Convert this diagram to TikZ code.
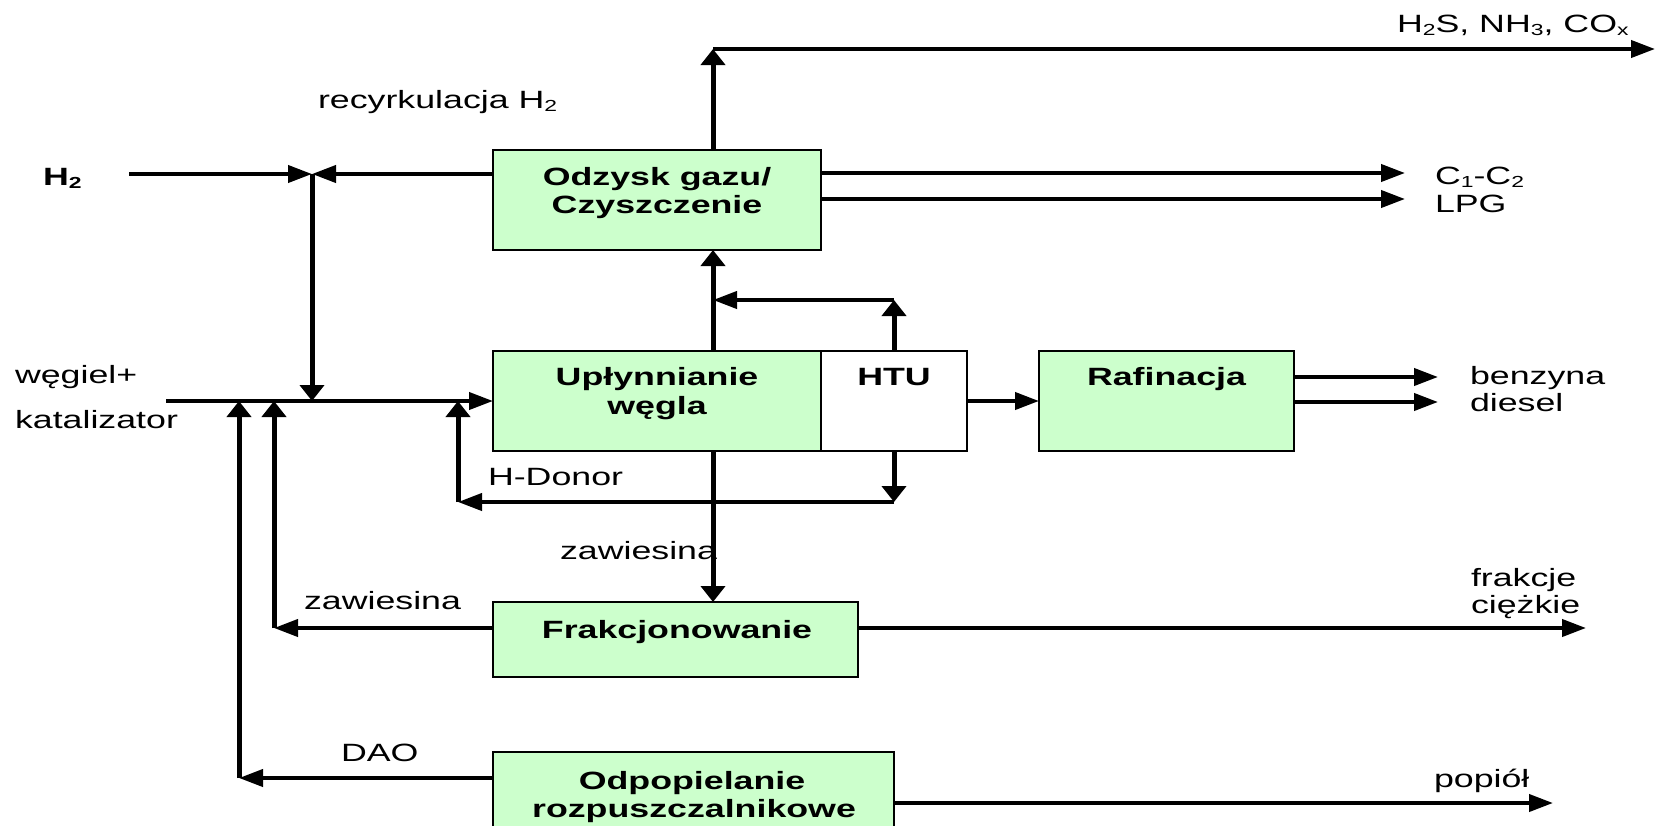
\documentclass[tikz,border=0pt]{standalone}
\usepackage{fontspec}
\setmainfont{Liberation Sans}
\usepackage{graphicx}
\usetikzlibrary{arrows.meta}
\definecolor{boxgreen}{HTML}{CCFFCC}
\newcommand{\stretchtxt}[1]{\scalebox{1.43}[1]{#1}}
\newcommand{\lowsub}[1]{\raisebox{-3pt}{\fontsize{16}{16}\selectfont #1}}
\begin{document}
\begin{tikzpicture}[x=1pt,y=-1pt,
  box/.style={draw, line width=1.8pt, fill=boxgreen, inner sep=0pt, outer sep=0pt, minimum height=100pt},
  whitebox/.style={box, fill=white},
  lbl/.style={inner sep=0pt, outer sep=0pt, font=\fontsize{25}{28}\selectfont, anchor=base west},
  boxlbl/.style={inner sep=0pt, outer sep=0pt, font=\fontsize{25}{28}\selectfont\bfseries, anchor=base},
  hl/.style={line width=4pt},
  vl/.style={line width=5pt},
  hto/.style={-{Triangle[length=24pt,width=17pt]}},
  vto/.style={-{Triangle[length=16pt,width=24pt]}}
]
\useasboundingbox (0,0) rectangle (1656,825);
\clip (0,0) rectangle (1656,825);

% boxes
\node[box, minimum width=328pt] (odz) at (657,200) {};
\node[box, minimum width=328pt] (upl) at (657,401) {};
\node[whitebox, minimum width=146pt] (htu) at (894,401) {};
\node[box, minimum width=255pt] (raf) at (1166.5,401) {};
\node[box, minimum width=365pt, minimum height=75pt] (frak) at (675.5,639.5) {};
\node[box, minimum width=401pt, minimum height=98pt] (odp) at (693.5,801) {};

% box labels
\node[boxlbl] (odzA) at (657,185) {\stretchtxt{Odzysk gazu/}};
\node[boxlbl] (odzB) at (657,213) {\stretchtxt{Czyszczenie}};
\node[boxlbl] (uplA) at (657,385) {\stretchtxt{Upłynnianie}};
\node[boxlbl] (uplB) at (657,414) {\stretchtxt{węgla}};
\node[boxlbl] (htuA) at (894,385) {\stretchtxt{HTU}};
\node[boxlbl] (rafA) at (1166.5,385) {\stretchtxt{Rafinacja}};
\node[boxlbl] (frakA) at (677,638) {\stretchtxt{Frakcjonowanie}};
\node[boxlbl] (odpA) at (692,789) {\stretchtxt{Odpopielanie}};
\node[boxlbl] (odpB) at (694,817) {\stretchtxt{rozpuszczalnikowe}};

% free labels
\node[lbl] (tH2S) at (1397,32) {\stretchtxt{H\lowsub{2}S, NH\lowsub{3}, CO\lowsub{x}}};
\node[lbl] (tRecy) at (318,108) {\stretchtxt{recyrkulacja H\lowsub{2}}};
\node[lbl] (tH2) at (43,185) {\stretchtxt{\bfseries H\lowsub{\bfseries 2}}};
\node[lbl] (tC) at (1435,184) {\stretchtxt{C\lowsub{1}-C\lowsub{2}}};
\node[lbl] (tLPG) at (1435,212) {\stretchtxt{LPG}};
\node[lbl] (tWeg) at (15,383) {\stretchtxt{węgiel+}};
\node[lbl] (tKat) at (15,428) {\stretchtxt{katalizator}};
\node[lbl] (tBenz) at (1470,384) {\stretchtxt{benzyna}};
\node[lbl] (tDies) at (1470,411) {\stretchtxt{diesel}};
\node[lbl] (tHD) at (488,485) {\stretchtxt{H-Donor}};
\node[lbl] (tZawM) at (560,559) {\stretchtxt{zawiesina}};
\node[lbl] (tZawL) at (304,609) {\stretchtxt{zawiesina}};
\node[lbl] (tFrA) at (1471,586) {\stretchtxt{frakcje}};
\node[lbl] (tFrB) at (1471,613) {\stretchtxt{ciężkie}};
\node[lbl] (tDAO) at (341,761) {\stretchtxt{DAO}};
\node[lbl] (tAsh) at (1434,787) {\stretchtxt{popiół}};

% coordinates
\coordinate (cTop) at (713,49);
\coordinate (cEnd) at (1655,49);
\coordinate (cH2in) at (129,174);
\coordinate (jH2) at (312,174);
\coordinate (jFeed) at (312,401);
\coordinate (cFeed) at (166,401);
\coordinate (cRecy) at (894,300);
\coordinate (cRecyL) at (713,300);
\coordinate (cHD) at (894,502);
\coordinate (cHDL) at (458,502);
\coordinate (cHDup) at (458,401);
\coordinate (cC1) at (1405,173);
\coordinate (cLPG) at (1405,199);
\coordinate (cBenz) at (1438,377);
\coordinate (cDies) at (1438,402);
\coordinate (cZaw) at (274,628);
\coordinate (cZawUp) at (274,401);
\coordinate (cHeavy) at (1586,628);
\coordinate (cDAO) at (239,778);
\coordinate (cDAOup) at (239,401);
\coordinate (cAsh) at (1553,803);

% connectors
\draw[vl, vto] (odz.north -| cTop) -- (cTop);
\draw[hl, hto] (cTop) -- (cEnd);
\draw[hl, hto] (cH2in) -- (jH2);
\draw[hl, hto] (odz.west |- jH2) -- (jH2);
\draw[vl, vto] (jH2) -- (jFeed);
\draw[hl, hto] (cFeed) -- (upl.west |- cFeed);
\draw[vl, vto] (upl.north -| cTop) -- (odz.south -| cTop);
\draw[vl, vto] (htu.north) -- (cRecy);
\draw[hl, hto] (cRecy) -- (cRecyL);
\draw[vl, vto] (htu.south) -- (cHD);
\draw[hl, hto] (cHD) -- (cHDL);
\draw[vl, vto] (cHDL) -- (cHDup);
\draw[vl, vto] (upl.south -| cTop) -- (frak.north -| cTop);
\draw[hl, hto] (htu.east |- cFeed) -- (raf.west |- cFeed);
\draw[hl, hto] (odz.east |- cC1) -- (cC1);
\draw[hl, hto] (odz.east |- cLPG) -- (cLPG);
\draw[hl, hto] (raf.east |- cBenz) -- (cBenz);
\draw[hl, hto] (raf.east |- cDies) -- (cDies);
\draw[hl, hto] (frak.west |- cZaw) -- (cZaw);
\draw[vl, vto] (cZaw) -- (cZawUp);
\draw[hl, hto] (frak.east |- cZaw) -- (cHeavy);
\draw[hl, hto] (odp.west |- cDAO) -- (cDAO);
\draw[vl, vto] (cDAO) -- (cDAOup);
\draw[hl, hto] (odp.east |- cAsh) -- (cAsh);
\end{tikzpicture}
\end{document}
